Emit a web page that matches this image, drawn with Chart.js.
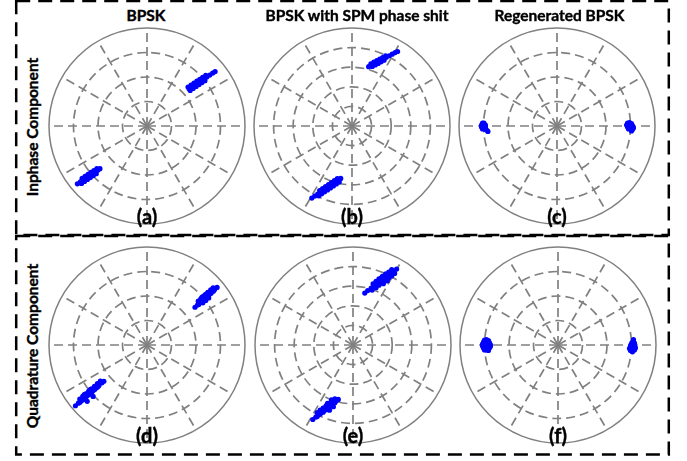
<!DOCTYPE html>
<html>
<head>
<meta charset="utf-8">
<script src="https://cdn.jsdelivr.net/npm/chart.js@4.4.1/dist/chart.umd.min.js"></script>
<style>
  body { margin: 0; width: 687px; height: 461px; background: #fff; position: relative; overflow: hidden;
         font-family: Lato, "Open Sans", sans-serif; }
  canvas { position: absolute; z-index: 1; }
  svg { position: absolute; left: 0; top: 0; z-index: 0; }
  .txt { position: absolute; z-index: 2; font-weight: bold; color: #000; text-align: center; white-space: nowrap;
         -webkit-text-stroke: 0.4px #000; }
</style>
</head>
<body>
<svg width="687" height="461">
  <rect x="16.2" y="1" width="652.6" height="234" fill="none" stroke="#000" stroke-width="2.5" stroke-dasharray="14 8"/>
  <rect x="16.2" y="236" width="652.6" height="218.5" fill="none" stroke="#000" stroke-width="2.5" stroke-dasharray="14 8"/>
</svg>
<script>
// constellation samples, in pixels from the circle centre (outer ring = 100), y up
var aUpper = [[43,38],[46,40],[49,42],[52,44],[55,46],[58,48],[61,50],[64,52],[67,54],[69.5,55.5],
  [41.9,39.7],[44.9,41.7],[47.9,43.7],[50.9,45.7],[53.9,47.7],[56.9,49.7],[59.9,51.7],
  [44.1,36.3],[47.1,38.3],[50.1,40.3],[53.1,42.3],[56.1,44.3],[59.1,46.3]];
var aLower = [[-71,-59],[-68,-57],[-65,-55],[-62,-53],[-59,-51],[-56,-49],[-53,-47],[-50,-45],[-48,-43.5],
  [-66.2,-53.4],[-63.2,-51.4],[-60.2,-49.4],[-57.2,-47.4],[-54.2,-45.4],[-51.2,-43.4],
  [-66.8,-58.6],[-63.8,-56.6],[-60.8,-54.6],[-57.8,-52.6],[-54.8,-50.6],[-51.8,-48.6]];

var bUpper = [[17,60.5],[20,62.1],[23,63.7],[26,65.3],[29,66.9],[32,68.5],[35,70.1],[38,71.7],[41,73.3],[44,74.9],[46.5,76],
  [19.3,63.5],[22.3,65.1],[25.3,66.7],[28.3,68.3],[31.3,69.9],[34.3,71.5],
  [20.7,60.7],[23.7,62.3],[26.7,63.9],[29.7,65.5],[32.7,67.1]];
var bLower = [[-41,-73.5],[-38,-71.5],[-35,-69.5],[-32,-67.5],[-29,-65.5],[-26,-63.5],[-23,-61.5],[-20,-59.5],[-17,-57.5],[-14,-55.5],[-11.5,-53.5],
  [-33,-65.8],[-30,-63.8],[-27,-61.8],[-24,-59.8],[-21,-57.8],[-18,-55.8],[-15,-53.8],
  [-34,-71.2],[-31,-69.2],[-28,-67.2],[-25,-65.2],[-22,-63.2],[-19,-61.2],[-16,-59.2],[-13,-57.2]];

var cLeft = [[-76,3],[-74.5,3],[-77,1],[-75,1],[-73,1],[-77,-1],[-75,-1],[-73,-1],[-76,-3],[-74,-3],[-72,-4],[-70.5,-5.5]];
var cRight = [[72,3],[74,3.5],[76,2.5],[71,1],[73,1],[75,1],[77,0.5],[72,-1],[74,-1],[76,-1],[78,-2],
  [73,-3],[75,-3],[77,-3.5],[76,-5]];

var dUpper = [[49,38.5],[51.5,40.8],[54,43],[56.6,45.4],[59,47.6],[61.6,50],[64,52],[66.7,54.5],[69,56.6],[71.5,58.8],
  [52.3,44.7],[54.9,47.1],[57.3,49.3],[59.9,51.7],[62.3,53.7],[65,56.2],[67.5,58.3],
  [52.8,41.4],[55.3,43.7],[57.9,46],[60.3,48.3],[62.7,50.4],[65.4,52.8],[67.9,55.2],
  [56,48.5],[59,51],[62,53.5],[57,43],[60,45.5],[63,48]];
var dLower = [[-73,-62],[-70,-59.4],[-67,-56.8],[-64,-54.2],[-61,-51.6],[-58,-49],[-55,-46.4],[-52,-43.8],[-49,-41.2],[-46,-38.6],[-44,-37],
  [-68.6,-55.1],[-65.6,-52.5],[-62.6,-49.9],[-59.6,-47.3],[-56.6,-44.7],[-53.6,-42.1],[-50.6,-39.5],[-47.6,-36.9],
  [-68.4,-58.5],[-65.4,-55.9],[-62.4,-53.3],[-59.4,-50.7],[-56.4,-48.1],[-53.4,-45.5],[-50.4,-42.9],
  [-64,-50.5],[-58,-45.5],[-61,-57.5],[-55,-52.5]];

var eUpper = [[12,53],[15,55.5],[18.5,58],[22,60.5],[25,63],[28,65.5],[31.5,68],[35,70.5],[38,72.5],[41,75],[44.5,77.5],
  [20.5,62.5],[23.5,65],[26.5,67.5],[30,70],[33.5,72.5],[36.5,74.5],[39.5,77],
  [19.5,56],[23.5,58.5],[26.5,61],[29.5,63.5],[33,66],[36.5,68.5],[39.5,70.5],[42.5,73],
  [29,68.5],[33,71.5],[31,62.5],[35,65.5]];
var eLower = [[-41,-76],[-38,-73.5],[-35,-71],[-32,-68.5],[-29,-66.5],[-26,-64],[-23,-61.5],[-20,-59],[-17,-57],[-15,-55.5],
  [-36.5,-69],[-33.5,-66.5],[-30.5,-64.5],[-27.5,-62],[-24.5,-59.5],[-21.5,-57],[-18.5,-55],
  [-36.5,-73],[-33.5,-70.5],[-30.5,-68.5],[-27.5,-66],[-24.5,-63.5],[-21.5,-61],[-18.5,-59],
  [-26,-59.5],[-22,-56],[-24,-66.5],[-20,-63]];

var fLeft = [[-75,5],[-73,5.5],[-71,4.5],[-76,3],[-74,3],[-72,3],[-70,2.5],[-77,1],[-75,1],[-73,1],[-71,1],[-69,0.5],
  [-77,-1],[-75,-1],[-73,-1],[-71,-1],[-69,-1.5],[-76,-3],[-74,-3],[-72,-3],[-70,-3],[-75,-5],[-73,-5],[-71,-5.5]];
var fRight = [[77,5.5],[77,3.5],[75.5,2.5],[78,2],[74.5,0.5],[76.5,0.5],[78.5,0],[74,-1.5],[76,-1.5],[78,-1.5],
  [73,-3.5],[75,-3.5],[77,-3.5],[79,-3],[74,-5.5],[76,-5.5],[78,-5],[76,-7]];

var clouds = [[aUpper, aLower], [bUpper, bLower], [cLeft, cRight],
              [dUpper, dLower], [eUpper, eLower], [fLeft, fRight]];

var ringStep = [25, 20, 25, 25, 20, 25];
var spokeLabels = ['', '', '', '', '', '', '', '', '', '', '', ''];
var titles = ['BPSK', 'BPSK with SPM phase shit', 'Regenerated BPSK'];
var rowLabels = ['Inphase Component', 'Quadrature Component'];
var panelTags = ['(a)', '(b)', '(c)', '(d)', '(e)', '(f)'];

// layout (page pixels)
var centres = [[147, 126], [352, 126], [557, 126], [147, 345], [353, 345], [558, 345]];
var titleX = [146, 357, 559.5];
var rowLabelY = [126.5, 345.8];
var gridGrey = '#808080';

function addText(str, x, y, w, size, rotate) {
  var d = document.createElement('div');
  d.className = 'txt';
  d.textContent = str;
  d.style.left = (x - w / 2) + 'px';
  d.style.top = y + 'px';
  d.style.width = w + 'px';
  d.style.fontSize = size + 'px';
  d.style.lineHeight = (rotate ? 20 : size) + 'px';
  if (rotate) d.style.transform = 'rotate(-90deg)';
  document.body.appendChild(d);
}

function panelChart(k) {
  var canvas = document.createElement('canvas');
  canvas.width = 204;
  canvas.height = 204;
  canvas.style.left = (centres[k][0] - 102) + 'px';
  canvas.style.top = (centres[k][1] - 102) + 'px';
  document.body.appendChild(canvas);

  return new Chart(canvas.getContext('2d'), {
    type: 'scatter',
    data: {
      labels: spokeLabels,
      datasets: clouds[k].map(function (cloud) {
        return {
          data: cloud.map(function (p) { return {x: p[0], y: p[1]}; }),
          backgroundColor: '#0000ff',
          borderWidth: 0,
          pointRadius: 2.6
        };
      })
    },
    options: {
      responsive: false,
      animation: false,
      events: [],
      layout: {padding: 2},
      plugins: {legend: {display: false}, tooltip: {enabled: false}},
      scales: {
        x: {display: false, min: -100, max: 100},
        y: {display: false, min: -100, max: 100},
        r: {
          type: 'radialLinear',
          min: 0,
          max: 100,
          ticks: {display: false, stepSize: ringStep[k]},
          pointLabels: {display: false},
          grid: {
            circular: true,
            color: gridGrey,
            lineWidth: function (c) { return c.tick.value === 100 ? 1.5 : 1.7; }
          },
          border: {dash: function (c) { return c.tick.value === 100 ? [] : [9, 5]; }},
          angleLines: {color: gridGrey, lineWidth: 1.7, borderDash: [9, 5]}
        }
      }
    }
  });
}

for (var k = 0; k < 6; k++) {
  panelChart(k);
  addText(panelTags[k], centres[k][0], centres[k][1] + 80 - (k < 3 ? 0 : 0.4), 60, 20, false);
}
for (var t = 0; t < 3; t++) {
  addText(titles[t], titleX[t], 8, 220, 15.5, false);
}
for (var r = 0; r < 2; r++) {
  addText(rowLabels[r], 31.5, rowLabelY[r] - 10, 200, 15.5, true);
}
</script>
</body>
</html>
